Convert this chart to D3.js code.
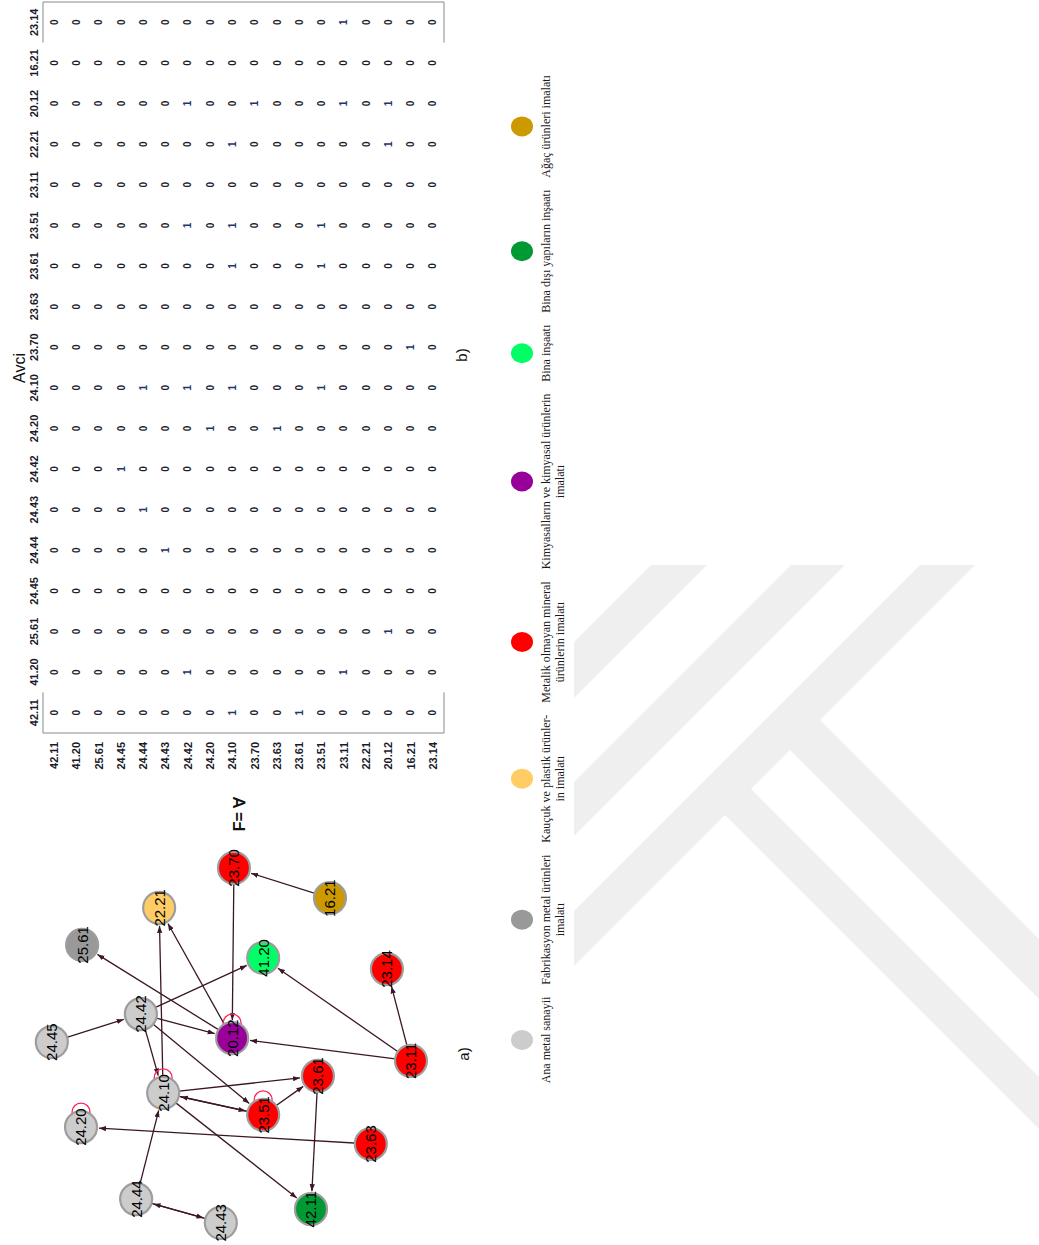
<!DOCTYPE html>
<html>
<head>
<meta charset="utf-8">
<script src="https://cdn.jsdelivr.net/npm/d3@7"></script>
<style>
  html, body { margin: 0; padding: 0; background: #ffffff; }
  svg { display: block; }
</style>
</head>
<body>
<svg id="fig" width="1039" height="1245"></svg>
<script>
// Sector codes (NACE), in the order used by the adjacency matrix
const codes = ["42.11","41.20","25.61","24.45","24.44","24.43","24.42","24.20","24.10",
               "23.70","23.63","23.61","23.51","23.11","22.21","20.12","16.21","23.14"];

// Adjacency matrix: row = source sector, column = target sector
const adjacency = [
  [0,0,0,0,0,0,0,0,0,0,0,0,0,0,0,0,0,0], // 42.11
  [0,0,0,0,0,0,0,0,0,0,0,0,0,0,0,0,0,0], // 41.20
  [0,0,0,0,0,0,0,0,0,0,0,0,0,0,0,0,0,0], // 25.61
  [0,0,0,0,0,0,1,0,0,0,0,0,0,0,0,0,0,0], // 24.45
  [0,0,0,0,0,1,0,0,1,0,0,0,0,0,0,0,0,0], // 24.44
  [0,0,0,0,1,0,0,0,0,0,0,0,0,0,0,0,0,0], // 24.43
  [0,1,0,0,0,0,0,0,1,0,0,0,1,0,0,1,0,0], // 24.42
  [0,0,0,0,0,0,0,1,0,0,0,0,0,0,0,0,0,0], // 24.20
  [1,0,0,0,0,0,0,0,1,0,0,1,1,0,1,0,0,0], // 24.10
  [0,0,0,0,0,0,0,0,0,0,0,0,0,0,0,1,0,0], // 23.70
  [0,0,0,0,0,0,0,1,0,0,0,0,0,0,0,0,0,0], // 23.63
  [1,0,0,0,0,0,0,0,0,0,0,0,0,0,0,0,0,0], // 23.61
  [0,0,0,0,0,0,0,0,1,0,0,1,1,0,0,0,0,0], // 23.51
  [0,1,0,0,0,0,0,0,0,0,0,0,0,0,0,1,0,1], // 23.11
  [0,0,0,0,0,0,0,0,0,0,0,0,0,0,0,0,0,0], // 22.21
  [0,0,1,0,0,0,0,0,0,0,0,0,0,0,1,1,0,0], // 20.12
  [0,0,0,0,0,0,0,0,0,1,0,0,0,0,0,0,0,0], // 16.21
  [0,0,0,0,0,0,0,0,0,0,0,0,0,0,0,0,0,0]  // 23.14
];

// Industry groups and their colours
const groups = [
  ["Ana metal sanayii"],
  ["Fabrikasyon metal ürünleri", "imalatı"],
  ["Kauçuk ve plastik ürünler-", "in imalatı"],
  ["Metalik olmayan mineral", "ürünlerin imalatı"],
  ["Kimyasalların ve kimyasal ürünlerin", "imalatı"],
  ["Bina inşaatı"],
  ["Bina dışı yapıların inşaatı"],
  ["Ağaç ürünleri imalatı"]
];
const groupColors = ["#cccccc","#999999","#ffcc66","#ff0000","#990099","#00ff66","#009933","#cc9900"];

// Group index of each sector (same order as codes)
const sectorGroup = [6,5,1,0,0,0,0,0,0,3,3,3,3,3,2,4,7,3];

// Network layout, normalised 0..1 (same order as codes)
const layoutX = [0.044,0.742,0.778,0.508,0.072,0.006,0.586,0.272,0.367,
                 0.992,0.225,0.414,0.306,0.456,0.881,0.519,0.908,0.711];
const layoutY = [0.715,0.584,0.088,0.005,0.236,0.468,0.249,0.085,0.310,
                 0.504,0.879,0.734,0.584,0.989,0.299,0.499,0.767,0.923];

const W = 1039, H = 1245;
const svg = d3.select("#fig");
const defs = svg.append("defs");

// ---------- background watermark (page coordinates) ----------
defs.append("clipPath").attr("id", "wmclip")
  .append("rect").attr("x", 574).attr("y", 565).attr("width", W - 574).attr("height", H - 565);
const wm = svg.append("g").attr("clip-path", "url(#wmclip)").attr("fill", "#efefef");
// diagonal "/" strokes: x + y within [a, b]
[[1216,1272],[1356,1410],[1485,1540]].forEach(([a,b]) => {
  wm.append("polygon").attr("points",
    [[a+600,-600],[a-2400,2400],[b-2400,2400],[b+600,-600]].map(p => p.join(",")).join(" "));
});
// "\" arms starting from the longest stroke: x - y within [c, d], x + y >= e
[[-90,-38],[40,100]].forEach(([c,d]) => {
  const e = 1505;
  wm.append("polygon").attr("points",
    [[(c+e)/2,(e-c)/2],[(d+e)/2,(e-d)/2],[d+2400,2400],[c+2400,2400]].map(p => p.join(",")).join(" "));
});

// ---------- rotated figure frame ----------
const frame = svg.append("g").attr("transform", `translate(0,${H}) rotate(-90)`);

// ===== a) network =====
const nx = d3.scaleLinear().domain([0,1]).range([20,380]);
const ny = d3.scaleLinear().domain([0,1]).range([50,415]);
const R = 16;

const nodes = codes.map((c,i) => ({ code: c, x: nx(layoutX[i]), y: ny(layoutY[i]), g: sectorGroup[i] }));
const links = [], loops = [];
adjacency.forEach((row,i) => row.forEach((v,j) => {
  if (v === 1) { if (i === j) loops.push(nodes[i]); else links.push({ s: nodes[i], t: nodes[j] }); }
}));

defs.append("marker").attr("id", "arrow")
  .attr("viewBox", "0 -4 8 8").attr("refX", 8).attr("refY", 0)
  .attr("markerWidth", 7).attr("markerHeight", 7).attr("markerUnits", "userSpaceOnUse")
  .attr("orient", "auto")
  .append("path").attr("d", "M0,-3L8,0L0,3Z").attr("fill", "#3b1626");

const net = frame.append("g");
net.append("g").selectAll("line").data(links).join("line")
  .attr("x1", d => d.s.x).attr("y1", d => d.s.y)
  .attr("x2", d => { const dx = d.t.x - d.s.x, dy = d.t.y - d.s.y, L = Math.hypot(dx,dy); return d.t.x - dx / L * (R + 2); })
  .attr("y2", d => { const dx = d.t.x - d.s.x, dy = d.t.y - d.s.y, L = Math.hypot(dx,dy); return d.t.y - dy / L * (R + 2); })
  .attr("stroke", "#3b1626").attr("stroke-width", 1.3)
  .attr("marker-end", "url(#arrow)");

net.append("g").selectAll("circle").data(loops).join("circle")
  .attr("cx", d => d.x + 15).attr("cy", d => d.y).attr("r", 9)
  .attr("fill", "none").attr("stroke", "#ff2050").attr("stroke-width", 1.3);

const ng = net.append("g").selectAll("g").data(nodes).join("g")
  .attr("transform", d => `translate(${d.x},${d.y})`);
ng.append("circle").attr("r", R)
  .attr("fill", d => groupColors[d.g]).attr("stroke", "#9d9d9d").attr("stroke-width", 2.2);
ng.append("text").text(d => d.code)
  .attr("text-anchor", "middle").attr("dy", "0.36em")
  .attr("font-family", "'Liberation Sans', Arial, sans-serif").attr("font-size", 15).attr("fill", "#000");

frame.append("text").text("a)").attr("x", 191).attr("y", 469)
  .attr("text-anchor", "middle").attr("font-family", "'Liberation Sans', Arial, sans-serif")
  .attr("font-size", 15).attr("fill", "#111");

frame.append("text").text("F= ∀").attr("x", 431).attr("y", 245)
  .attr("text-anchor", "middle").attr("font-family", "'Liberation Sans', Arial, sans-serif")
  .attr("font-weight", "bold").attr("font-size", 16).attr("fill", "#111");

// ===== b) adjacency matrix =====
const col = d3.scaleBand().domain(codes).range([512, 1243]);
const row = d3.scaleBand().domain(codes).range([43, 444]);
const mat = frame.append("g").attr("font-family", "'Liberation Sans', Arial, sans-serif");

mat.append("g").selectAll("text").data(codes).join("text")
  .text(d => d).attr("x", d => col(d) + col.bandwidth() / 2).attr("y", 38)
  .attr("text-anchor", "middle").attr("font-weight", "bold").attr("font-size", 11).attr("fill", "#1a1a2a");

mat.append("g").selectAll("text").data(codes).join("text")
  .text(d => d).attr("x", 503).attr("y", d => row(d) + row.bandwidth() / 2).attr("dy", "0.36em")
  .attr("text-anchor", "end").attr("font-weight", "bold").attr("font-size", 11).attr("fill", "#1a1a2a");

const cells = [];
adjacency.forEach((r,i) => r.forEach((v,j) => cells.push({ r: codes[i], c: codes[j], v })));
mat.append("g").selectAll("text").data(cells).join("text")
  .text(d => d.v).attr("x", d => col(d.c) + col.bandwidth() / 2).attr("y", d => row(d.r) + row.bandwidth() / 2)
  .attr("dy", "0.36em").attr("text-anchor", "middle").attr("font-weight", "bold").attr("font-size", 10)
  .attr("fill", d => d.v ? "#1f3566" : "#1c1f30");

// table frame: full outer verticals, closing edges around the first and last columns
const [c0, c1] = col.range(), [r0, r1] = row.range();
const firstEnd = col(codes[0]) + col.bandwidth(), lastStart = col(codes[codes.length - 1]);
const border = [
  [c0, r0, c0, r1], [c1, r0, c1, r1],
  [c0, r0, firstEnd, r0], [c0, r1, firstEnd, r1],
  [lastStart, r0, c1, r0], [lastStart, r1, c1, r1]
];
mat.append("g").selectAll("line").data(border).join("line")
  .attr("x1", d => d[0]).attr("y1", d => d[1]).attr("x2", d => d[2]).attr("y2", d => d[3])
  .attr("stroke", "#8a8a8a").attr("stroke-width", 1);

frame.append("text").text("Avci").attr("x", 877).attr("y", 25)
  .attr("text-anchor", "middle").attr("font-family", "'Liberation Sans', Arial, sans-serif")
  .attr("font-size", 16).attr("fill", "#111");
frame.append("text").text("b)").attr("x", 890).attr("y", 467)
  .attr("text-anchor", "middle").attr("font-family", "'Liberation Sans', Arial, sans-serif")
  .attr("font-size", 15).attr("fill", "#111");

// ===== legend =====
const leg = frame.append("g").attr("font-family", "'Liberation Serif', 'Times New Roman', serif")
  .attr("font-size", 12).attr("fill", "#1a1a1a");
const items = leg.selectAll("g").data(groups).join("g");
items.each(function(lines) {
  const g = d3.select(this);
  lines.forEach((t,k) => g.append("text").text(t).attr("text-anchor", "middle").attr("x", 0).attr("y", 550 + k * 14));
});
// place items side by side using their label widths
let cursor = null, prevHalf = 0;
const gap = 12;
items.each(function(lines, i) {
  const g = d3.select(this);
  const w = d3.max(g.selectAll("text").nodes(), n => n.getComputedTextLength());
  cursor = cursor === null ? 205 : cursor + prevHalf + gap + w / 2;
  prevHalf = w / 2;
  g.attr("transform", `translate(${cursor},0)`);
  g.insert("ellipse", "text").attr("cx", 0).attr("cy", 522).attr("rx", 10).attr("ry", 11)
    .attr("fill", groupColors[i]);
});
</script>
</body>
</html>
